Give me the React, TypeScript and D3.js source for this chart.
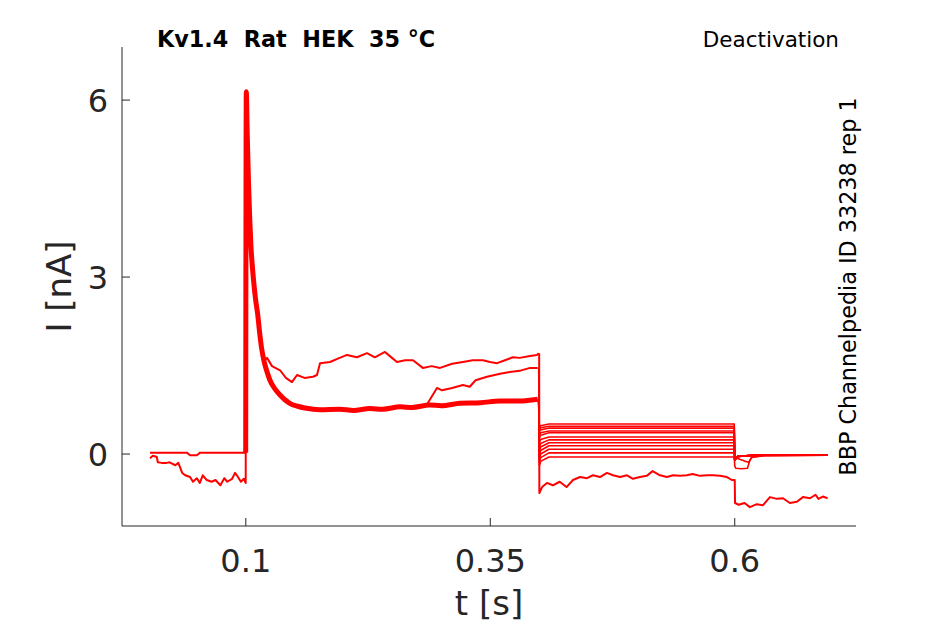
import * as d3 from 'd3'

type Pt = [number, number]

// axis ticks
const xTicks = [0.1, 0.35, 0.6]
const yTicks = [0, 3, 6]

// holding period, clean sweeps (t [s], I [nA])
const preFlat: Pt[] = [
  [0.002, 0.02], [0.04, 0.02], [0.043, -0.02], [0.05, -0.02], [0.053, 0.02], [0.0998, 0.02],
]

// holding period, leaky sweep
const preLeak: Pt[] = [
  [0.002, -0.07], [0.005, -0.03], [0.009, -0.05], [0.01, -0.14], [0.014, -0.15], [0.019, -0.15],
  [0.022, -0.14], [0.028, -0.19], [0.031, -0.15], [0.035, -0.32], [0.038, -0.36], [0.043, -0.39],
  [0.046, -0.47], [0.05, -0.41], [0.053, -0.49], [0.056, -0.36], [0.06, -0.44], [0.065, -0.47],
  [0.069, -0.44], [0.074, -0.53], [0.078, -0.41], [0.081, -0.47], [0.086, -0.42], [0.089, -0.32],
  [0.092, -0.39], [0.095, -0.47], [0.098, -0.42], [0.0998, -0.49],
]

// activating step, bundle of sweeps
const pulseBundle: Pt[] = [
  [0.0999, 0.02], [0.1005, 6.14], [0.1015, 5.4], [0.1027, 4.64], [0.104, 4.0], [0.1053, 3.51],
  [0.1066, 3.2], [0.1079, 2.95], [0.11, 2.62], [0.112, 2.39], [0.114, 2.08], [0.116, 1.81],
  [0.119, 1.55], [0.122, 1.38], [0.1247, 1.25], [0.13, 1.1], [0.135, 1.0], [0.14, 0.92],
  [0.145, 0.86], [0.153, 0.81], [0.1605, 0.78], [0.176, 0.75], [0.196, 0.76], [0.21, 0.74],
  [0.227, 0.77], [0.24, 0.76], [0.258, 0.8], [0.27, 0.79], [0.288, 0.83], [0.3, 0.82],
  [0.319, 0.86], [0.34, 0.87], [0.36, 0.9], [0.38, 0.9], [0.3985, 0.93],
]

// sweep that stays high during the step
const pulseHigh: Pt[] = [
  [0.119, 1.58], [0.1217, 1.63], [0.1268, 1.49], [0.135, 1.42], [0.141, 1.29], [0.1472, 1.22],
  [0.1524, 1.34], [0.16, 1.29], [0.1687, 1.31], [0.1728, 1.34], [0.1759, 1.54], [0.1861, 1.56],
  [0.196, 1.63], [0.2035, 1.68], [0.2137, 1.64], [0.224, 1.71], [0.232, 1.64], [0.2423, 1.73],
  [0.2495, 1.63], [0.2546, 1.56], [0.263, 1.59], [0.271, 1.59], [0.281, 1.46], [0.29, 1.49],
  [0.2986, 1.46], [0.311, 1.53], [0.322, 1.56], [0.332, 1.59], [0.3425, 1.59], [0.3497, 1.56],
  [0.357, 1.54], [0.365, 1.59], [0.373, 1.64], [0.38, 1.63], [0.3906, 1.66], [0.3978, 1.68],
  [0.3995, 1.71],
]

// sweep that rises late in the step
const pulseRise: Pt[] = [
  [0.286, 0.86], [0.2955, 1.12], [0.3006, 1.08], [0.311, 1.12], [0.322, 1.17], [0.329, 1.14],
  [0.335, 1.25], [0.3466, 1.31], [0.36, 1.36], [0.37, 1.39], [0.38, 1.41], [0.3906, 1.46], [0.3985, 1.46],
]

// deactivation step: steady level and first value of each sweep
const tailLevels = [0.51, 0.47, 0.44, 0.39, 0.36, 0.29, 0.24, 0.19, 0.14, 0.08, 0.02, -0.05]
const tailStarts = [0.45, 0.42, 0.38, 0.33, 0.28, 0.2, 0.12, 0.05, -0.02, -0.08, -0.14, -0.2]

// deactivation step, leaky sweep
const tailLeak: Pt[] = [
  [0.4, 1.71], [0.4002, -0.66], [0.403, -0.56], [0.408, -0.49], [0.414, -0.53], [0.421, -0.47],
  [0.428, -0.56], [0.4346, -0.44], [0.4417, -0.39], [0.4489, -0.41], [0.455, -0.36], [0.4622, -0.39],
  [0.4693, -0.32], [0.4755, -0.36], [0.4826, -0.39], [0.4898, -0.36], [0.4959, -0.42], [0.503, -0.39],
  [0.51, -0.37], [0.516, -0.29], [0.5235, -0.36], [0.5307, -0.39], [0.5368, -0.36], [0.544, -0.37],
  [0.551, -0.36], [0.557, -0.34], [0.5644, -0.37], [0.5716, -0.36], [0.5777, -0.36], [0.5849, -0.37],
  [0.592, -0.39], [0.5971, -0.44], [0.5995, -0.44],
]

// return to holding, clean sweeps
const postFlat: Pt[] = [[0.6, -0.1], [0.603, -0.04], [0.62, -0.02], [0.695, -0.02]]
const postHookA: Pt[] = [
  [0.6, -0.2], [0.601, -0.24], [0.607, -0.25], [0.613, -0.24], [0.6155, -0.1], [0.618, -0.05],
  [0.63, -0.03], [0.695, -0.02],
]
const postHookB: Pt[] = [
  [0.6, -0.05], [0.605, -0.09], [0.61, -0.12], [0.6145, -0.14], [0.617, -0.06], [0.63, -0.03], [0.695, -0.02],
]

// return to holding, leaky sweep
const postLeak: Pt[] = [
  [0.6, -0.44], [0.6003, -0.83], [0.604, -0.86], [0.61, -0.83], [0.6155, -0.9], [0.6225, -0.85],
  [0.6287, -0.87], [0.636, -0.73], [0.643, -0.76], [0.6493, -0.75], [0.6564, -0.83], [0.6636, -0.81],
  [0.6697, -0.73], [0.677, -0.75], [0.6826, -0.69], [0.6856, -0.76], [0.69, -0.72], [0.695, -0.75],
]

const W = 945
const H = 624
const M = { left: 122, right: 856, top: 47, bottom: 526 }
const RED = '#ff0000'
const AX = '#262626'
const FONT = '"DejaVu Sans", sans-serif'

export default function App() {
  const x = d3.scaleLinear().domain([-0.0266, 0.724]).range([M.left, M.right])
  const y = d3.scaleLinear().domain([-1.22, 6.9]).range([M.bottom, M.top])
  const line = d3
    .line<Pt>()
    .x((d) => x(d[0]))
    .y((d) => y(d[1]))
  const smooth = d3
    .line<Pt>()
    .x((d) => x(d[0]))
    .y((d) => y(d[1]))
    .curve(d3.curveMonotoneX)

  const pulseEnd = pulseBundle[pulseBundle.length - 1][1]

  // each clean sweep: deactivation level, then return to holding
  const tails = tailLevels.map((lv, i) => {
    const post = i === tailLevels.length - 1 ? postHookA : i === tailLevels.length - 2 ? postHookB : postFlat
    const pts: Pt[] = [
      [0.3995, i === 3 ? pulseRise[pulseRise.length - 1][1] : pulseEnd],
      [0.4002, tailStarts[i]],
      [0.4015, (tailStarts[i] + lv) / 2],
      [0.41, lv],
      [0.5995, lv],
      ...post,
    ]
    return pts
  })

  return (
    <svg
      width={W}
      height={H}
      style={{ position: 'absolute', left: 0, top: 0, background: '#fff' }}
      fontFamily={FONT}
    >
      <rect width={W} height={H} fill="#fff" />

      {/* traces */}
      <g fill="none" stroke={RED} strokeLinejoin="round">
        <path d={line(preFlat) ?? ''} strokeWidth={2} />
        <path d={line([...preLeak, [0.0999, -0.49], [0.1005, 6.14]]) ?? ''} strokeWidth={2} />
        <path d={smooth(pulseBundle) ?? ''} strokeWidth={5} />
        <path d={line(pulseHigh) ?? ''} strokeWidth={2} />
        <path d={line(pulseRise) ?? ''} strokeWidth={2} />
        {tails.map((pts, i) => (
          <path key={i} d={line(pts) ?? ''} strokeWidth={1.6} />
        ))}
        <path d={line([...tailLeak, ...postLeak]) ?? ''} strokeWidth={2} />
      </g>

      {/* axes */}
      <g stroke={AX} strokeWidth={1} fill="none">
        <line x1={M.left} x2={M.left} y1={M.top} y2={M.bottom} />
        <line x1={M.left} x2={M.right} y1={M.bottom} y2={M.bottom} />
        {xTicks.map((t) => (
          <line key={t} x1={x(t)} x2={x(t)} y1={M.bottom} y2={M.bottom - 8} />
        ))}
        {yTicks.map((t) => (
          <line key={t} x1={M.left} x2={M.left + 8} y1={y(t)} y2={y(t)} />
        ))}
      </g>
      <g fill={AX} fontSize={32}>
        {xTicks.map((t) => (
          <text key={t} x={x(t)} y={572} textAnchor="middle">
            {t}
          </text>
        ))}
        {yTicks.map((t) => (
          <text key={t} x={108} y={y(t) + 11.5} textAnchor="end">
            {t}
          </text>
        ))}
      </g>
      <text x={(M.left + M.right) / 2} y={615} textAnchor="middle" fontSize={34} fill={AX}>
        t [s]
      </text>
      <text
        transform={`translate(71,${(M.top + M.bottom) / 2}) rotate(-90)`}
        textAnchor="middle"
        fontSize={34}
        fill={AX}
      >
        I [nA]
      </text>

      {/* annotations */}
      <text x={157} y={47} fontSize={22.3} fontWeight="bold" fill="#000" style={{ whiteSpace: 'pre' }}>
        {'Kv1.4  Rat  HEK  35 °C'}
      </text>
      <text x={839} y={47} fontSize={21.5} textAnchor="end" fill="#000">
        Deactivation
      </text>
      <text
        transform={`translate(856,${(M.top + M.bottom) / 2}) rotate(-90)`}
        textAnchor="middle"
        fontSize={22.3}
        fill="#000"
      >
        BBP Channelpedia ID 33238 rep 1
      </text>
    </svg>
  )
}
